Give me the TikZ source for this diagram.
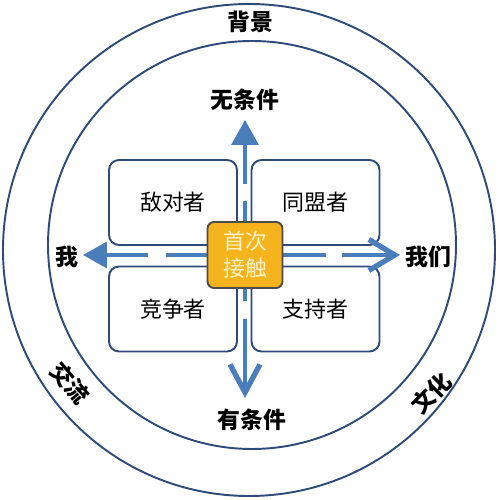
\documentclass[tikz,border=0pt]{standalone}
\usepackage{fontspec}
\setmainfont{Noto Sans CJK SC}
\usetikzlibrary{arrows.meta,positioning,calc}
\definecolor{ringblue}{HTML}{2F4B7A}
\definecolor{arrowblue}{HTML}{4A7EBB}
\definecolor{coreorange}{HTML}{F5B41E}
\definecolor{coretext}{HTML}{FFF2C6}
\tikzset{
  ring/.style={draw=ringblue, line width=1.1pt},
  quad/.style={draw=ringblue, line width=1.1pt, rounded corners=0.2cm,
    minimum width=2.56cm, minimum height=1.7cm, inner sep=0pt,
    font=\fontsize{12.5}{14}\selectfont},
  core/.style={draw=black!70, line width=1.1pt, fill=coreorange, rounded corners=0.13cm,
    minimum width=1.5cm, minimum height=1.32cm, inner sep=0pt, align=center,
    text=coretext, font=\fontsize{12.5}{15.3}\selectfont},
  axis/.style={draw=arrowblue, line width=2pt},
  lbl/.style={font=\bfseries\fontsize{13}{14}\selectfont}
}
\begin{document}
\begin{tikzpicture}[x=0.02cm, y=0.02cm]
\useasboundingbox (0,0) rectangle (500,500);
% two rings
\draw[ring] (249,250) circle (246);
\draw[ring] (252,255) circle (204);
% four quadrants
\node[quad] (enemy)   at (173,297.5) {敌对者};
\node[quad] (ally)    at (315.5,297.5) {同盟者};
\node[quad] (rival)   at (173,191) {竞争者};
\node[quad] (support) at (315.5,191) {支持者};
% arrow ends
\coordinate (up)    at (245,380);
\coordinate (down)  at (245,102);
\coordinate (left)  at (83,245);
\coordinate (right) at (400,245);
\coordinate (mid)   at (245,245);
\draw[axis, -{Triangle[length=0.5cm, width=0.54cm]}, dash pattern=on 0.42cm off 0.34cm on 5cm]
  ($(mid)+(0,33)$) -- (up);
\draw[axis, -{Triangle[length=0.48cm, width=0.52cm]}, dash pattern=on 0.84cm off 0.36cm on 5cm]
  ($(mid)+(-37,0)$) -- (left);
\draw[axis, -{Straight Barb[length=0.52cm, width=0.62cm, line width=3pt]}, dash pattern=on 0.88cm off 0.32cm on 5cm]
  ($(mid)+(37,0)$) -- (right);
\draw[axis, -{Straight Barb[length=0.56cm, width=0.6cm, line width=3pt]}, dash pattern=on 0.26cm off 0.36cm on 5cm]
  ($(mid)+(0,-33)$) -- (down);
% centre
\node[core] (first) at (mid) {首次\\接触};
% labels
\node[lbl] (bg)    at (250,478) {背景};
\node[lbl] (nocond) at (245,400) {无条件};
\node[lbl] (cond)  at (252,80) {有条件};
\node[lbl] (me)    at (67,243) {我};
\node[lbl] (us)    at (428,243) {我们};
\node[lbl, rotate=-50] (talk)    at (70,117) {交流};
\node[lbl, rotate=45]  (culture) at (431,107) {文化};
\end{tikzpicture}
\end{document}
